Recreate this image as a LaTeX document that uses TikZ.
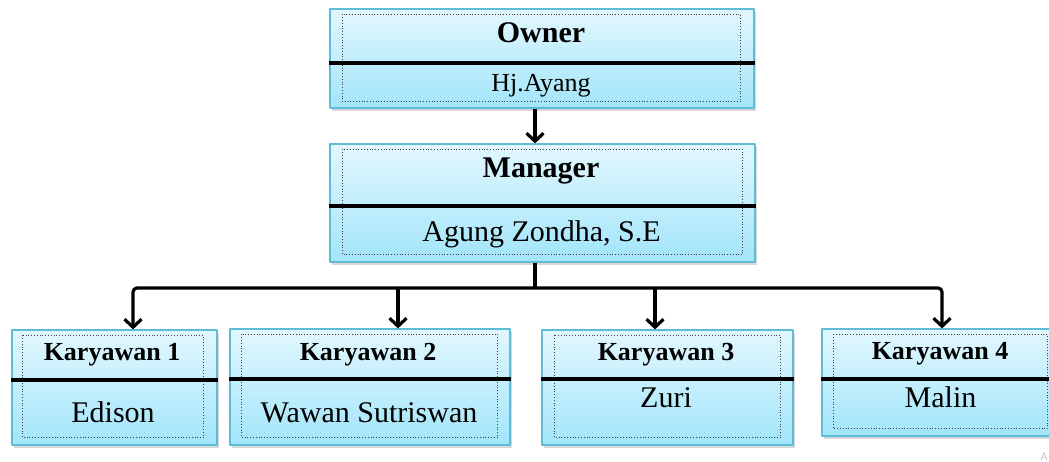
\documentclass[tikz,border=0pt]{standalone}
\usepackage{fontspec}
\setmainfont{Liberation Serif}
\usetikzlibrary{arrows.meta,shadows}

\definecolor{boxtop}{RGB}{226,247,254}
\definecolor{boxbottom}{RGB}{162,229,250}
\definecolor{boxedge}{RGB}{96,188,214}

\begin{document}
\begin{tikzpicture}[x=1pt, y=-1pt, line join=round,
  card/.style={draw=boxedge, line width=1.2pt, top color=boxtop, bottom color=boxbottom,
    drop shadow={opacity=0.3, shadow xshift=1.5pt, shadow yshift=-3pt}, inner sep=0pt},
  frame/.style={draw=black!75, dotted, line width=0.8pt},
  divider/.style={line width=3.4pt},
  link/.style={line width=3.2pt, -{Straight Barb[length=8pt,width=17pt]}},
  rolelabel/.style={anchor=base, font=\fontsize{30}{36}\selectfont\bfseries},
  stafflabel/.style={anchor=base, font=\fontsize{26}{31}\selectfont\bfseries},
  personlabel/.style={anchor=base, font=\fontsize{30}{36}\selectfont}]

  % Fix the canvas
  \fill[white] (0,0) rectangle (1049,462);
  \useasboundingbox (0,0) rectangle (1049,462);

  % Define the bus coordinates
  \coordinate (hub) at (535,288);
  \coordinate (bus1) at (133,288);
  \coordinate (bus2) at (398,288);
  \coordinate (bus3) at (655,288);
  \coordinate (bus4) at (942,288);

  % Draw the boxes
  \node[card, minimum width=424, minimum height=99] (owner) at (542,58.5) {};
  \node[card, minimum width=425, minimum height=118] (manager) at (542.5,203) {};
  \node[card, minimum width=205, minimum height=115] (k1) at (114.5,387.5) {};
  \node[card, minimum width=280, minimum height=116] (k2) at (370,387) {};
  \node[card, minimum width=251, minimum height=115] (k3) at (667.5,387.5) {};
  \node[card, minimum width=237, minimum height=107] (k4) at (940.5,382.5) {};

  % Draw the dotted frames
  \draw[frame] ([shift={(13,6)}]owner.north west) rectangle ([shift={(-14,-7)}]owner.south east);
  \draw[frame] ([shift={(13,6)}]manager.north west) rectangle ([shift={(-13,-8)}]manager.south east);
  \draw[frame] ([shift={(11,6)}]k1.north west) rectangle ([shift={(-14,-8)}]k1.south east);
  \draw[frame] ([shift={(12,6)}]k2.north west) rectangle ([shift={(-13,-8)}]k2.south east);
  \draw[frame] ([shift={(13,6)}]k3.north west) rectangle ([shift={(-13,-8)}]k3.south east);
  \draw[frame] ([shift={(12,6)}]k4.north west) rectangle ([shift={(-12,-8)}]k4.south east);

  % Draw the dividers
  \draw[divider] (owner.west |- 0,63) -- (owner.east |- 0,63);
  \draw[divider] (manager.west |- 0,206) -- (manager.east |- 0,206);
  \draw[divider] (k1.west |- 0,380) -- (k1.east |- 0,380);
  \draw[divider] (k2.west |- 0,379) -- (k2.east |- 0,379);
  \draw[divider] (k3.west |- 0,379) -- (k3.east |- 0,379);
  \draw[divider] (k4.west |- 0,379) -- (k4.east |- 0,379);

  % Label the boxes
  \node[rolelabel] (ownerrole) at (541,43) {Owner};
  \node[personlabel, font=\fontsize{26}{31}\selectfont] (ownername) at (541,92) {Hj.Ayang};
  \node[rolelabel] (managerrole) at (541,178) {Manager};
  \node[personlabel] (managername) at (541.5,242) {Agung Zondha, S.E};
  \node[stafflabel] (k1role) at (112,360) {Karyawan 1};
  \node[personlabel] (k1name) at (113,422) {Edison};
  \node[stafflabel] (k2role) at (368,360) {Karyawan 2};
  \node[personlabel] (k2name) at (369,422) {Wawan Sutriswan};
  \node[stafflabel] (k3role) at (666,360) {Karyawan 3};
  \node[personlabel] (k3name) at (666,407) {Zuri};
  \node[stafflabel] (k4role) at (940,359) {Karyawan 4};
  \node[personlabel] (k4name) at (940.5,407) {Malin};

  % Draw the connectors
  \draw[link] (owner.south -| hub) -- (manager.north -| hub);
  \draw[line width=3.2pt] (manager.south -| hub) -- (hub);
  \draw[link, rounded corners=4] (hub) -| (k1.north -| bus1);
  \draw[link] (bus2) -- (k2.north -| bus2);
  \draw[link] (bus3) -- (k3.north -| bus3);
  \draw[link, rounded corners=4] (hub) -| (k4.north -| bus4);

  % Faint mark in the corner
  \node[anchor=south east, inner sep=1pt, text=black!25, font=\fontsize{11}{11}\sffamily] (mark) at (1049,462) {A};

\end{tikzpicture}
\end{document}
